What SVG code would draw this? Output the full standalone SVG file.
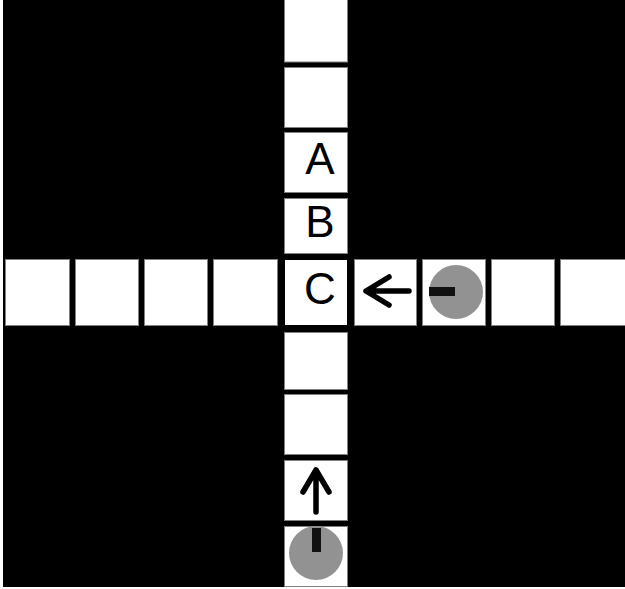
<svg xmlns="http://www.w3.org/2000/svg" width="625" height="589" viewBox="0 0 625 589">
<style>
.cell{fill:#fff;stroke:#808080;stroke-width:1}
.center{fill:#fff;stroke:#000;stroke-width:2}
.lbl{font-family:"Liberation Sans",Arial,sans-serif;font-size:44px;fill:#000;text-anchor:middle}
.arrow{fill:none;stroke:#000;stroke-width:5.5;stroke-linecap:round;stroke-linejoin:round}
.robot{fill:#929292}
.bar{fill:#111}
</style>
<rect x="0" y="0" width="625" height="589" fill="#fff"/>
<rect x="3" y="0" width="622" height="587" fill="#000"/>
<g id="column-top">
<rect id="t1" class="cell" x="284.5" y="-1" width="63" height="63"/>
<rect id="t2" class="cell" x="284.5" y="67.5" width="63" height="60"/>
</g>
<g id="node-A"><rect class="cell" x="284.5" y="132.5" width="63" height="60"/><text class="lbl" x="320" y="174">A</text></g>
<g id="node-B"><rect class="cell" x="284.5" y="198.5" width="63" height="55"/><text class="lbl" x="320" y="237">B</text></g>
<g id="row-left">
<rect class="cell" x="5.5" y="259.5" width="64" height="66"/>
<rect class="cell" x="75.5" y="259.5" width="63" height="66"/>
<rect class="cell" x="144.5" y="259.5" width="63" height="66"/>
<rect class="cell" x="213.5" y="259.5" width="64" height="66"/>
</g>
<g id="node-C"><rect class="center" x="284" y="259" width="64" height="67"/><text class="lbl" x="320" y="304">C</text></g>
<g id="row-right">
<rect class="cell" x="354.5" y="259.5" width="62" height="66"/>
<rect class="cell" x="422.5" y="259.5" width="63" height="66"/>
<rect class="cell" x="491.5" y="259.5" width="63" height="66"/>
<rect class="cell" x="560.5" y="259.5" width="70" height="66"/>
</g>
<g id="column-bottom">
<rect class="cell" x="284.5" y="332.5" width="63" height="57"/>
<rect class="cell" x="284.5" y="394.5" width="63" height="60"/>
<rect class="cell" x="284.5" y="460.5" width="63" height="60"/>
<rect class="cell" x="284.5" y="526.5" width="63" height="60"/>
</g>
<g id="robot-right">
<circle class="robot" cx="456" cy="292" r="27"/>
<rect class="bar" x="429" y="287" width="26" height="9"/>
</g>
<g id="robot-bottom">
<circle class="robot" cx="316" cy="553" r="27"/>
<rect class="bar" x="312" y="528" width="9" height="24"/>
</g>
<g id="connectors">
<path class="arrow" d="M409 291 H366 M389 277 L366 291 L389 305"/>
<path class="arrow" d="M316 512 V470 M303 492 L316 470 L329 492"/>
</g>
</svg>
